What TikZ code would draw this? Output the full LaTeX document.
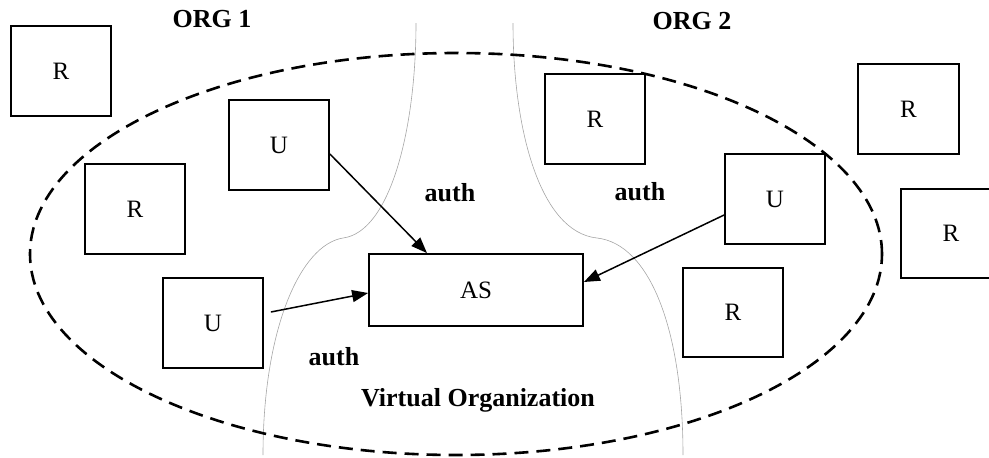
\documentclass[tikz,border=0pt]{standalone}
\usepackage{fontspec}
\setmainfont{Liberation Serif}
\usetikzlibrary{arrows.meta}
\tikzset{
  box/.style={draw, line width=1.8pt, minimum width=100pt, minimum height=90pt, inner sep=0pt, font=\fontsize{25}{30}\selectfont},
  lbl/.style={font=\fontsize{26}{30}\selectfont\bfseries, inner sep=0pt},
  arr/.style={line width=1.5pt, -{Triangle[length=16pt,width=12pt]}},
  orgline/.style={draw=black!35, line width=0.6pt},
  vo/.style={line width=2.6pt, dash pattern=on 14pt off 8pt}
}
\begin{document}
\begin{tikzpicture}[x=1pt,y=-1pt]
\useasboundingbox (0,0) rectangle (989,458);
% organisation boundaries
\draw[orgline] (416,23) .. controls (416,130) and (390,232) .. (343,238) .. controls (300,245) and (263,330) .. (263,455);
\draw[orgline] (513,23) .. controls (513,130) and (540,232) .. (597,238) .. controls (650,244) and (683,330) .. (683,455);
% virtual organization
\draw[vo] (456,254) ellipse [x radius=426pt, y radius=201pt];
% boxes
\node[box] (r1) at (61,71) {R};
\node[box] (r2) at (135,209) {R};
\node[box] (u1) at (279,145) {U};
\node[box] (u2) at (213,323) {U};
\node[box, minimum width=214pt, minimum height=72pt] (as) at (476,290) {AS};
\node[box] (r3) at (595,119) {R};
\node[box, minimum width=101pt] (r4) at (908.5,109) {R};
\node[box] (u3) at (775,199) {U};
\node[box, minimum height=89pt] (r5) at (951,233.5) {R};
\node[box, minimum height=89pt] (r6) at (733,312.5) {R};
% arrows
\draw[arr] ([yshift=-9pt]u1.east) -- ([xshift=-49pt]as.north);
\draw[arr] ([xshift=7pt,yshift=11pt]u2.east) -- ([yshift=-3pt]as.west);
\draw[arr] ([yshift=-16pt]u3.west) -- ([yshift=8pt]as.east);
% labels
\node[lbl] (org1) at (212,19) {ORG 1};
\node[lbl] (org2) at (692,21) {ORG 2};
\node[lbl] (auth1) at (450,193) {auth};
\node[lbl] (auth2) at (640,192) {auth};
\node[lbl] (auth3) at (334,357) {auth};
\node[lbl] (vorg) at (478,400) {Virtual Organization};
\end{tikzpicture}
\end{document}
